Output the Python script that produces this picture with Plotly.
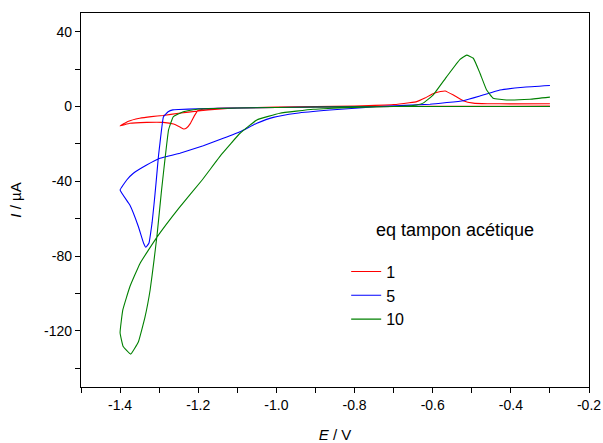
import plotly.graph_objects as go

# Series: 1 eq tampon acétique (red)
e_1_fwd = [-0.3, -0.5, -0.7, -0.9, -1.0, -1.1, -1.15, -1.18, -1.2, -1.21, -1.22, -1.23, -1.237, -1.245, -1.263, -1.29, -1.332, -1.375, -1.4]
i_1_fwd = [0.2, 0.1, 0.0, -0.3, -0.5, -0.8, -1.0, -1.3, -2.0, -5.0, -9.0, -11.5, -12.0, -11.2, -9.4, -8.5, -8.5, -9.0, -10.4]
e_1_rev = [-1.4, -1.38, -1.35, -1.32, -1.29, -1.25, -1.2, -1.15, -1.1, -1.0, -0.9, -0.8, -0.7, -0.66, -0.641, -0.62, -0.598, -0.58, -0.568, -0.547, -0.522, -0.496, -0.46, -0.4, -0.3]
i_1_rev = [-10.4, -8.0, -6.3, -5.4, -4.8, -3.6, -2.4, -1.4, -0.8, -0.3, 0.0, 0.3, 1.0, 2.0, 2.6, 4.5, 7.0, 8.0, 8.3, 6.1, 3.1, 1.8, 1.5, 1.4, 1.5]

# Series: 5 eq (blue)
e_5_fwd = [-0.3, -0.5, -0.7, -0.9, -1.1, -1.2, -1.25, -1.265, -1.277, -1.289, -1.298, -1.302, -1.308, -1.313, -1.318, -1.322, -1.326, -1.334, -1.34, -1.353, -1.375, -1.4]
i_5_fwd = [0.0, 0.0, 0.0, -0.3, -0.8, -1.2, -1.6, -1.8, -2.8, -5.5, -19.7, -27.0, -41.0, -52.0, -62.0, -68.0, -73.0, -75.3, -73.0, -64.3, -52.7, -44.7]
e_5_rev = [-1.4, -1.383, -1.366, -1.332, -1.298, -1.247, -1.187, -1.136, -1.093, -1.05, -1.008, -0.948, -0.863, -0.735, -0.607, -0.522, -0.479, -0.428, -0.368, -0.3]
i_5_rev = [-44.7, -39.3, -35.7, -31.3, -27.7, -25.0, -21.0, -17.0, -13.5, -9.0, -5.8, -3.6, -1.9, 0.0, 1.2, 3.1, 5.6, 8.8, 10.3, 11.2]

# Series: 10 eq (green)
e_10_fwd = [-0.3, -0.5, -0.7, -0.9, -1.1, -1.2, -1.238, -1.264, -1.276, -1.285, -1.294, -1.305, -1.313, -1.323, -1.336, -1.353, -1.373, -1.392, -1.4]
i_10_fwd = [0.0, 0.0, 0.0, -0.3, -0.8, -1.3, -2.8, -5.5, -12.6, -28.0, -45.0, -68.0, -82.0, -98.0, -112.4, -125.8, -132.4, -128.4, -121.0]
e_10_rev = [-1.4, -1.393, -1.375, -1.349, -1.306, -1.25, -1.19, -1.14, -1.093, -1.05, -0.991, -0.906, -0.8, -0.7, -0.65, -0.625, -0.599, -0.564, -0.53, -0.513, -0.496, -0.479, -0.462, -0.445, -0.411, -0.351, -0.3]
i_10_rev = [-121.0, -108.8, -96.4, -83.9, -70.0, -54.5, -39.3, -25.5, -14.3, -7.2, -3.6, -1.5, -0.5, 0.0, 0.5, 1.8, 6.1, 16.0, 25.2, 27.5, 25.8, 17.8, 8.8, 4.4, 3.5, 3.9, 5.0]

series_names = ["1", "5", "10"]
series_colors = ["#ff0000", "#0000ff", "#008000"]
series_e = [e_1_fwd + e_1_rev[1:], e_5_fwd + e_5_rev[1:], e_10_fwd + e_10_rev[1:]]
series_i = [i_1_fwd + i_1_rev[1:], i_5_fwd + i_5_rev[1:], i_10_fwd + i_10_rev[1:]]

x_tickvals = [-1.4, -1.2, -1.0, -0.8, -0.6, -0.4, -0.2]
x_ticktext = ["-1.4", "-1.2", "-1.0", "-0.8", "-0.6", "-0.4", "-0.2"]
y_tickvals = [40, 0, -40, -80, -120]
y_ticktext = ["40", "0", "-40", "-80", "-120"]

legend_title = "eq tampon acétique"
x_range = [-1.5, -0.2]
y_range = [-150, 50]

FONT = "Liberation Sans, Arial, sans-serif"

fig = go.Figure()
for name, col, ev, iv in zip(series_names, series_colors, series_e, series_i):
    fig.add_trace(go.Scatter(x=ev, y=iv, mode="lines", name=name,
                             line=dict(color=col, width=1.1, shape="spline", smoothing=0.3)))

fig.update_layout(
    width=603, height=443,
    margin=dict(l=81, r=14, t=13, b=56),
    plot_bgcolor="white", paper_bgcolor="white",
    font=dict(family=FONT, size=14, color="black"),
    showlegend=True,
    legend=dict(x=0.522, y=0.354, xanchor="left", yanchor="top",
                bgcolor="rgba(0,0,0,0)", font=dict(size=16, family=FONT),
                tracegroupgap=0, itemwidth=30),
    xaxis=dict(range=x_range, tickvals=x_tickvals, ticktext=x_ticktext, automargin=False,
               showgrid=False, zeroline=False,
               showline=True, linecolor="black", linewidth=1.2, mirror=True,
               ticks="outside", ticklen=5, tickcolor="black",
               minor=dict(dtick=0.1, tick0=-1.5, ticks="outside", ticklen=5, tickcolor="black", showgrid=False),
               title=dict(text="<i>E</i> / V", font=dict(size=15), standoff=20),
               tickfont=dict(size=14)),
    yaxis=dict(range=y_range, tickvals=y_tickvals, ticktext=y_ticktext, automargin=False,
               showgrid=False, zeroline=False,
               showline=True, linecolor="black", linewidth=1.2, mirror=True,
               ticks="outside", ticklen=5, tickcolor="black",
               minor=dict(dtick=20, tick0=0, ticks="outside", ticklen=5, tickcolor="black", showgrid=False),
               title=dict(text="<i>I</i> / µA", font=dict(size=15), standoff=18),
               tickfont=dict(size=14)),
    xaxis2=dict(range=x_range, overlaying="x", side="top", anchor="y", automargin=False,
                tickvals=x_tickvals, showticklabels=False, showgrid=False, zeroline=False,
                ticks="inside", ticklen=6, tickcolor="black",
                minor=dict(dtick=0.1, tick0=-1.5, ticks="inside", ticklen=2, tickcolor="black", showgrid=False)),
    yaxis2=dict(range=y_range, overlaying="y", side="right", anchor="x", automargin=False,
                dtick=20, tick0=0, showticklabels=False, showgrid=False, zeroline=False,
                ticks="outside", ticklen=3, tickcolor="black"),
    annotations=[dict(text=legend_title, x=0.577, y=0.42, xref="paper", yref="paper",
                      xanchor="left", yanchor="middle", showarrow=False,
                      font=dict(size=18, family=FONT))],
)

fig.write_html("out.html", config={"displayModeBar": False},
               post_script="document.body.style.margin='0';")
